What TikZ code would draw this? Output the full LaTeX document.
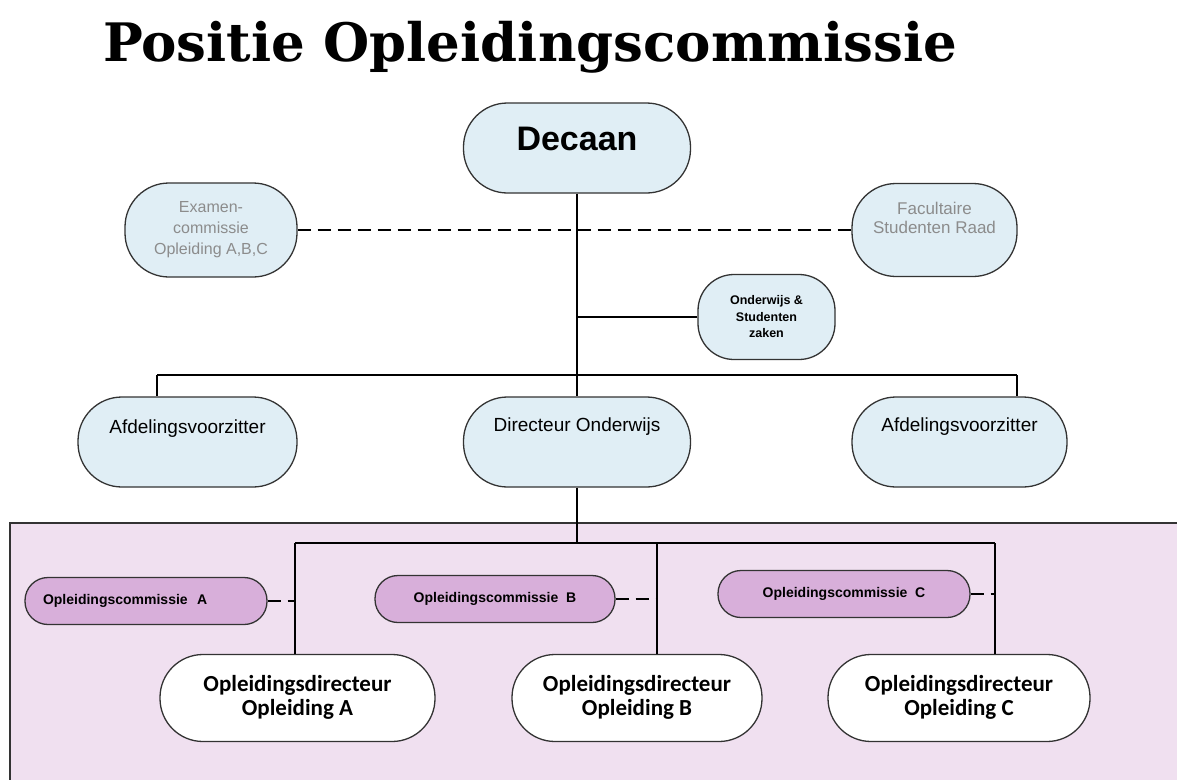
\documentclass[tikz,border=0pt]{standalone}
\usepackage{fontspec}
\setmainfont{Liberation Sans}
\newfontfamily\titlefont{DejaVu Serif}
\newfontfamily\dirfont{Carlito}
\usetikzlibrary{positioning}

\definecolor{boxblue}{HTML}{E0EEF5}
\definecolor{lilacbg}{HTML}{F0E0F0}
\definecolor{comviolet}{HTML}{D8AFDA}
\definecolor{greytext}{HTML}{8C8C8C}
\definecolor{edgegrey}{HTML}{333333}

\begin{document}
\begin{tikzpicture}[x=1pt,y=-1pt]
    \tikzset{
        unit/.style={draw=edgegrey, line width=1.3pt, fill=boxblue, rounded corners=44pt, align=center, inner sep=0pt},
        commissie/.style={draw=edgegrey, line width=1.3pt, fill=comviolet, rounded corners=23pt, inner sep=0pt,
            minimum height=47pt, font=\fontsize{14}{16}\selectfont\bfseries},
        leiding/.style={draw=edgegrey, line width=1.3pt, fill=white, rounded corners=43pt, align=center, inner sep=0pt,
            minimum width=262pt, minimum height=87pt, font=\dirfont\fontsize{23}{24}\selectfont\bfseries, text depth=6pt},
        link/.style={line width=1.6pt},
        loose/.style={line width=1.6pt, dash pattern=on 13pt off 7pt}
    }

    \useasboundingbox (0,0) rectangle (1177,779);

    \draw node (title) at (530,47) {\titlefont\bfseries\fontsize{53}{56}\selectfont Positie Opleidingscommissie};

    \draw[draw=edgegrey, line width=1.3pt, fill=lilacbg] (10,523) rectangle (1190,800);

    \draw node[unit, minimum width=227pt, minimum height=90pt, font=\fontsize{34}{38}\selectfont\bfseries, text depth=18pt] (dec) at (577,148) {Decaan};
    \draw node[unit, minimum width=172pt, minimum height=94pt, text=greytext, font=\fontsize{16}{21}\selectfont] (exa) at (211,230) {Examen-\\commissie\\Opleiding A,B,C};
    \draw node[unit, minimum width=165pt, minimum height=93pt, text=greytext, font=\fontsize{17}{19}\selectfont, text depth=24pt] (fac) at (934.5,230) {Facultaire\\Studenten Raad};
    \draw node[unit, minimum width=137pt, minimum height=85pt, rounded corners=36pt, font=\fontsize{12.5}{16.5}\selectfont\bfseries] (ond) at (766.5,317) {Onderwijs \&\\Studenten\\zaken};
    \draw node[unit, minimum width=219pt, minimum height=90pt, font=\fontsize{19}{22}\selectfont, text depth=30pt] (afdL) at (187.5,442) {Afdelingsvoorzitter};
    \draw node[unit, minimum width=227pt, minimum height=90pt, font=\fontsize{19}{22}\selectfont, text depth=34pt] (dir) at (577,442) {Directeur Onderwijs};
    \draw node[unit, minimum width=215pt, minimum height=90pt, font=\fontsize{19}{22}\selectfont, text depth=34pt] (afdR) at (959.5,442) {Afdelingsvoorzitter};

    \draw node[commissie, minimum width=242pt, text width=206pt, align=left] (comA) at (146,601) {Opleidingscommissie\ \ A};
    \draw node[commissie, minimum width=240pt] (comB) at (495,599) {Opleidingscommissie\ \ B};
    \draw node[commissie, minimum width=252pt] (comC) at (844,594) {Opleidingscommissie\ \ C};

    \draw node[leiding, minimum width=275pt] (odA) at (297.5,698) {Opleidingsdirecteur\\Opleiding A};
    \draw node[leiding, minimum width=250pt] (odB) at (637,698) {Opleidingsdirecteur\\Opleiding B};
    \draw node[leiding, minimum width=262pt] (odC) at (959,698) {Opleidingsdirecteur\\Opleiding C};

    % top part
    \coordinate (barL) at (157,375);
    \coordinate (barR) at (1017,375);
    \draw[link] (dec) -- (dir);
    \draw[link] (barL) -- (barR);
    \draw[link] (barL) -- (barL |- afdL.north);
    \draw[link] (barR) -- (barR |- afdR.north);
    \draw[link] (ond.west) -- (ond.west -| dec.south);
    \draw[loose] (exa) -- (fac);

    % opleidingen
    \coordinate (lowL) at (295,543);
    \coordinate (lowB) at (657,543);
    \coordinate (lowC) at (995,543);
    \draw[link] (dir.south) -- (dir.south |- lowL);
    \draw[link] (lowL) -- (lowC);
    \foreach \od/\top in {odA/lowL, odB/lowB, odC/lowC}{
        \draw[link] (\top) -- (\top |- \od.north);
    }
    \foreach \com/\top in {comA/lowL, comB/lowB, comC/lowC}{
        \draw[loose] (\com.east) -- (\com.east -| \top);
    }
\end{tikzpicture}
\end{document}
